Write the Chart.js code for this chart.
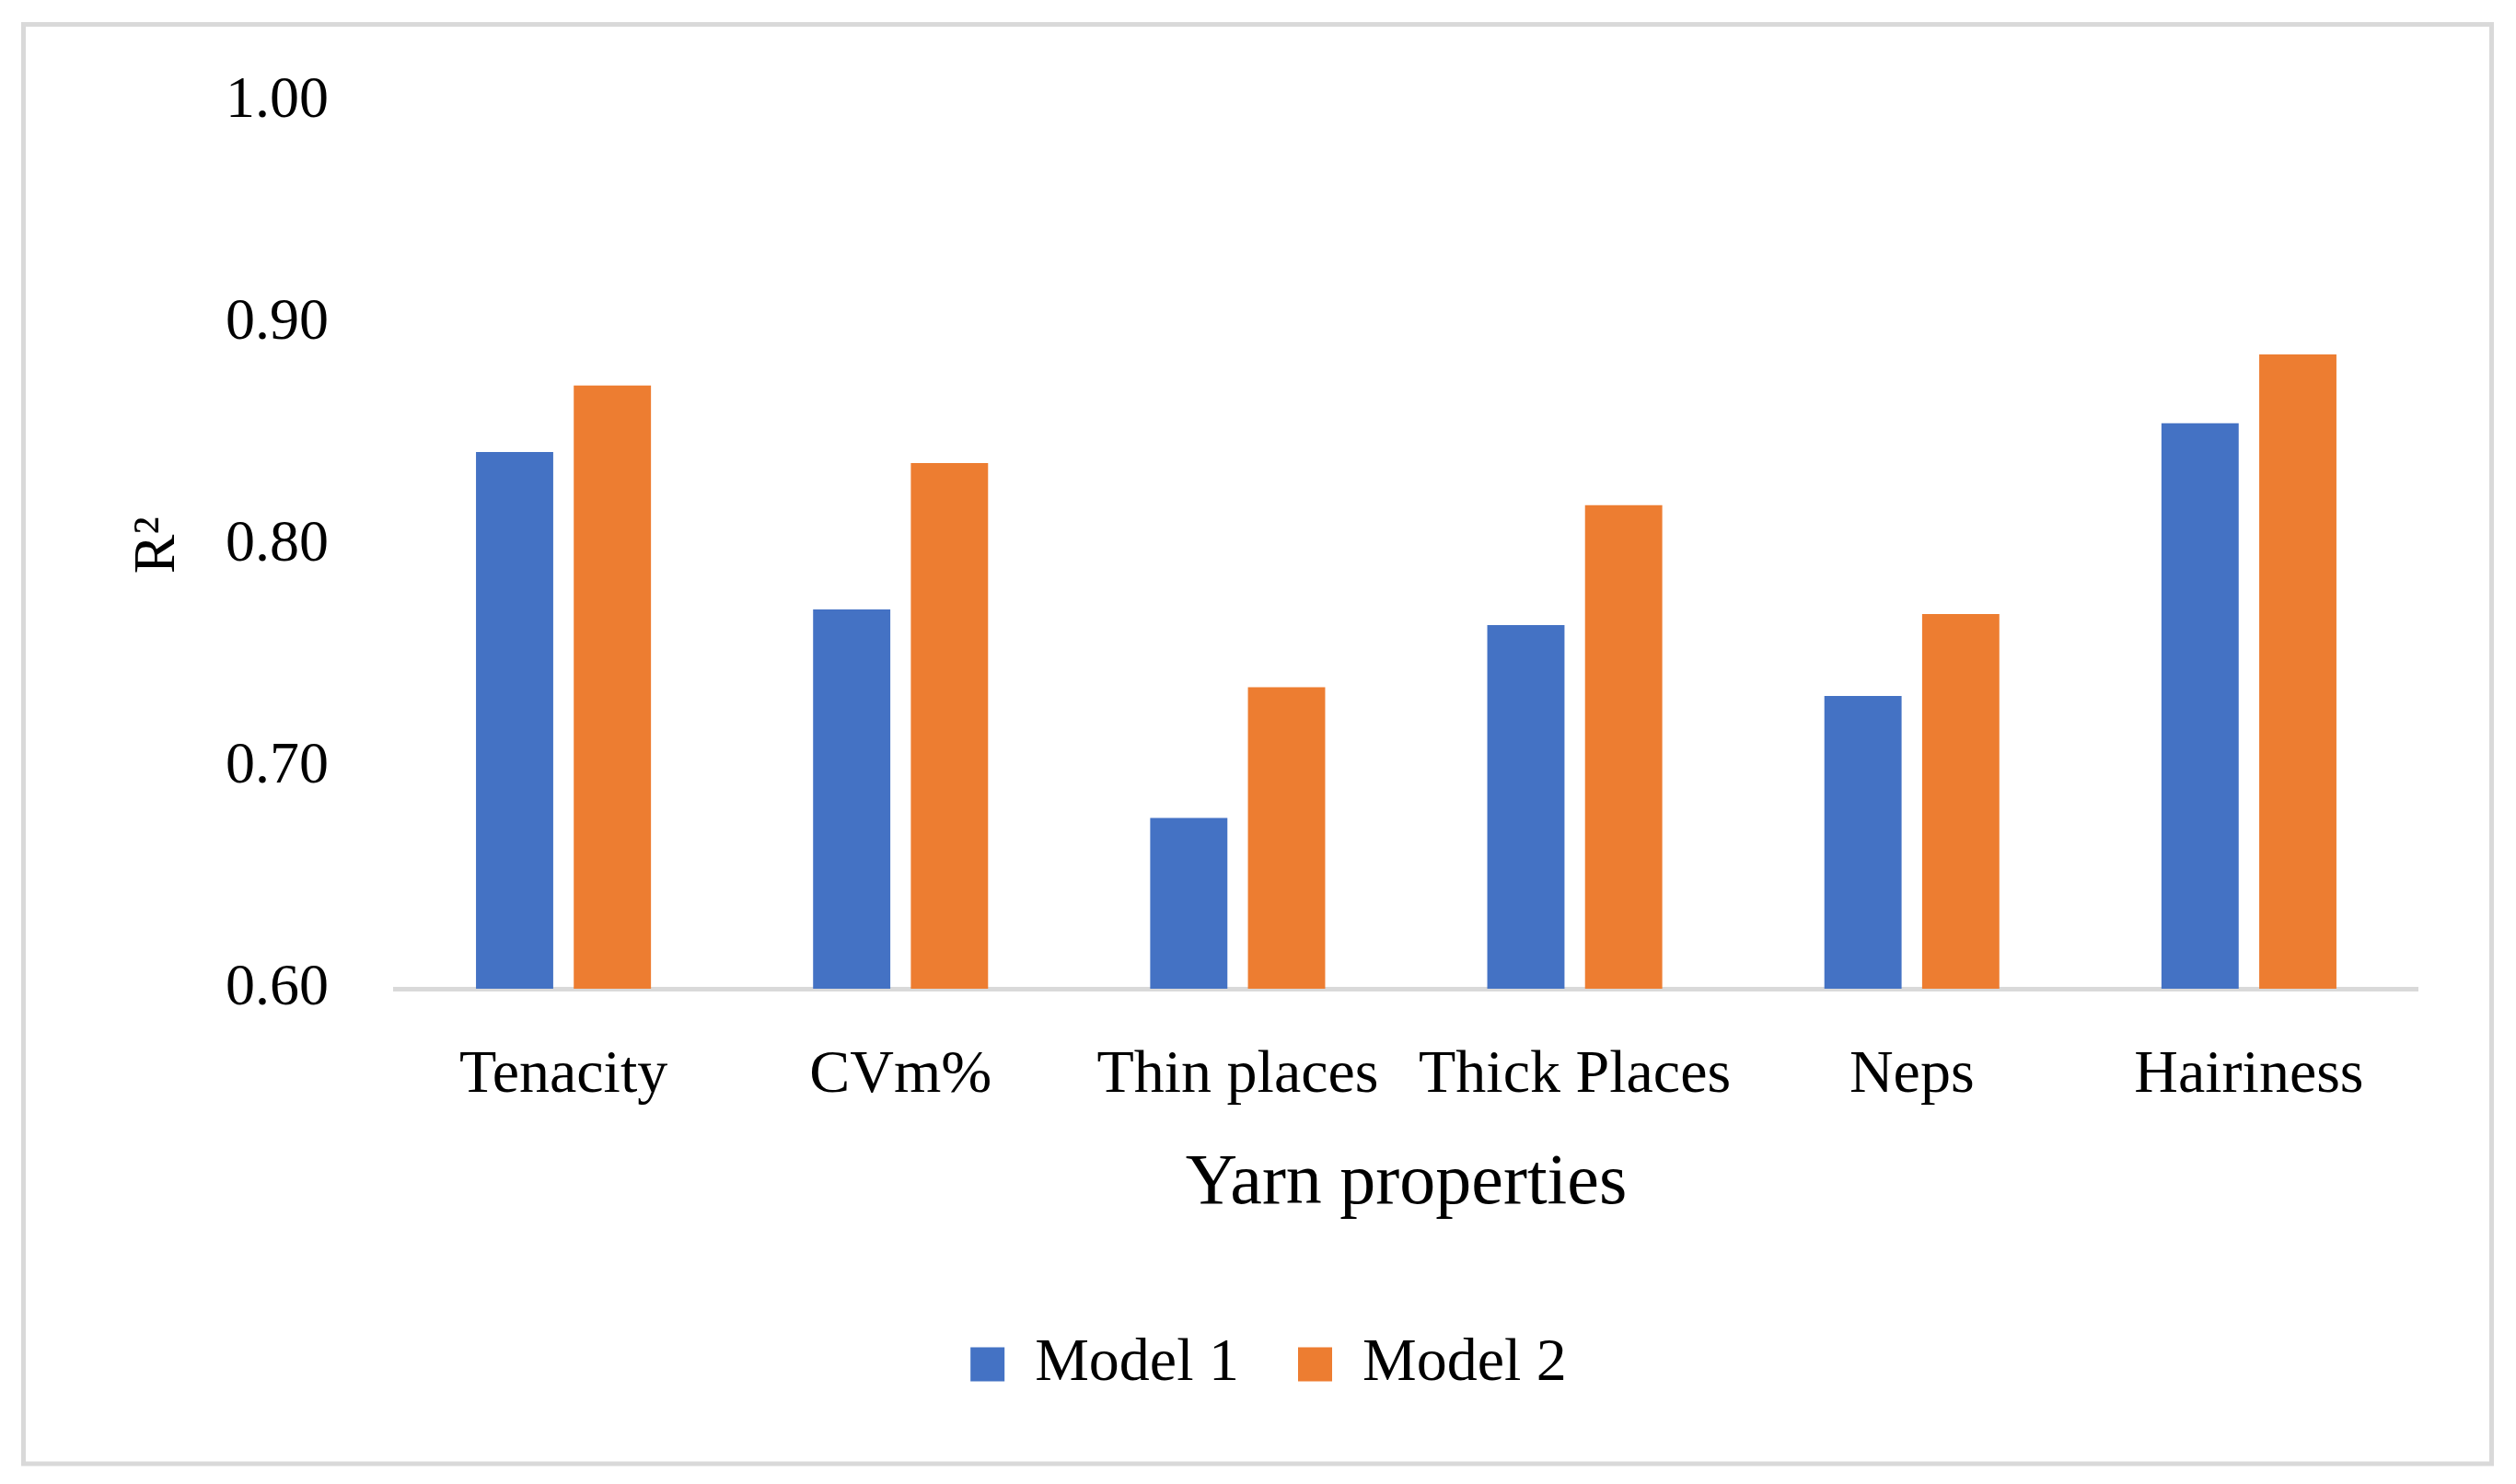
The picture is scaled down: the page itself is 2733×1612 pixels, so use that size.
<!DOCTYPE html>
<html>
<head>
<meta charset="utf-8">
<script src="https://cdn.jsdelivr.net/npm/chart.js@4.4.1/dist/chart.umd.min.js"></script>
<style>
  html,body{margin:0;padding:0;background:#fff;overflow:hidden}
  #wrap{position:relative;width:2733px;height:1612px}
</style>
</head>
<body>
<div id="wrap"><canvas id="r2Chart"></canvas></div>
<script>
// data
const categories=['Tenacity','CVm%','Thin places','Thick Places','Neps','Hairiness'];
const model1=[0.842,0.771,0.677,0.764,0.732,0.855];
const model2=[0.872,0.837,0.736,0.818,0.769,0.886];
const seriesNames=['Model 1','Model 2'];
const yTicks=[0.60,0.70,0.80,0.90,1.00];

const FONT="'Liberation Serif','Times New Roman',serif";
const INK='#000';
const RULE='#d9d9d9';

// outer frame round the whole figure
const framePlugin={
  id:'frame',
  beforeDraw(chart){
    const c=chart.ctx;
    c.save();
    c.fillStyle='#fff';c.fillRect(0,0,chart.width,chart.height);
    c.strokeStyle=RULE;c.lineWidth=5;
    c.strokeRect(25.5,26.5,2681,1563.5);
    c.restore();
  }
};

new Chart(document.getElementById('r2Chart').getContext('2d'),{
  type:'bar',
  data:{
    labels:categories,
    datasets:[
      {label:seriesNames[0],data:model1,backgroundColor:'#4472C4',borderWidth:0},
      {label:seriesNames[1],data:model2,backgroundColor:'#ED7D31',borderWidth:0}
    ]
  },
  options:{
    responsive:true,maintainAspectRatio:false,devicePixelRatio:1,animation:false,
    categoryPercentage:0.58,barPercentage:0.79,
    layout:{padding:{left:130,right:107,top:104,bottom:87}},
    scales:{
      x:{
        grid:{display:false,drawTicks:false},
        border:{display:true,color:RULE,width:5},
        ticks:{color:INK,font:{family:FONT,size:66},padding:55,maxRotation:0,autoSkip:false},
        title:{display:true,text:'Yarn properties',color:INK,font:{family:FONT,size:78},padding:{top:0,bottom:52}},
        afterFit(s){s.height=311;}
      },
      y:{
        min:0.6,max:1.0,
        grid:{display:false,drawTicks:false},
        border:{display:false},
        afterBuildTicks(s){s.ticks=yTicks.map(v=>({value:v}));},
        ticks:{color:INK,font:{family:FONT,size:64},padding:72,callback:v=>Number(v).toFixed(2)},
        title:{display:true,text:'R²',color:INK,font:{family:FONT,size:64},padding:{top:4,bottom:4}},
        afterFit(s){s.width=299;}
      }
    },
    plugins:{
      legend:{
        position:'bottom',
        labels:{color:INK,font:{family:FONT,size:66},boxWidth:37,boxHeight:37,padding:64}
      },
      tooltip:{enabled:false}
    }
  },
  plugins:[framePlugin]
});
</script>
</body>
</html>
